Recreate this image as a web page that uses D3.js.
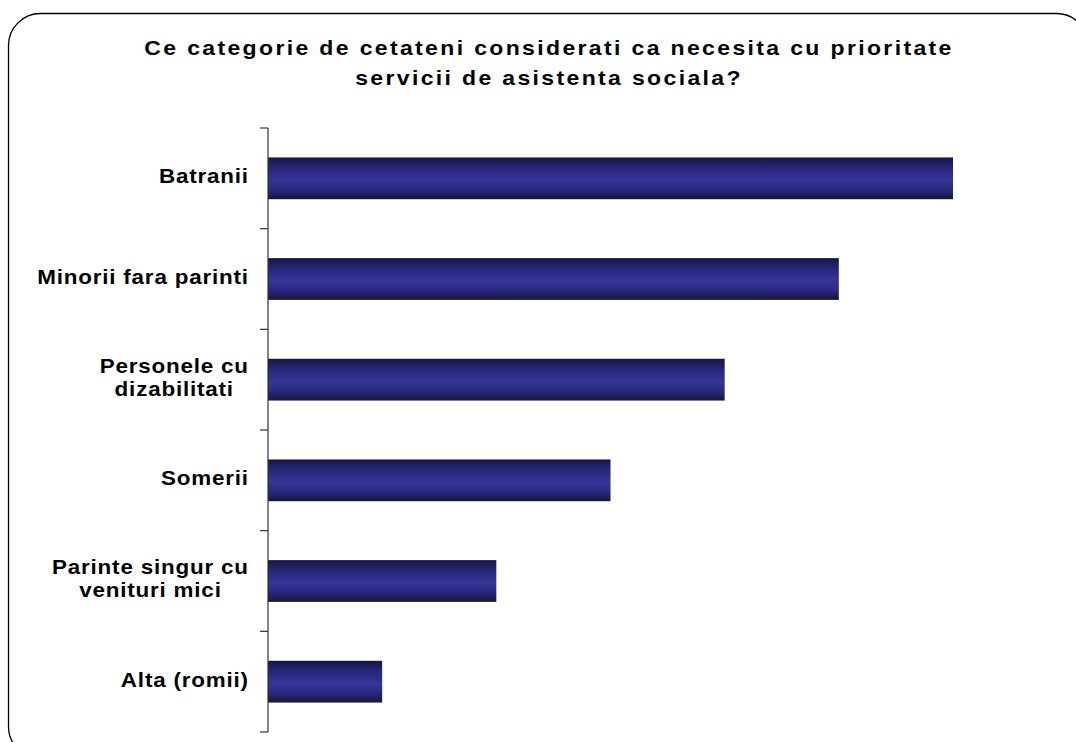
<!DOCTYPE html>
<html>
<head>
<meta charset="utf-8">
<script src="https://cdn.jsdelivr.net/npm/d3@7"></script>
<style>
  html, body { margin: 0; padding: 0; background: #fff; }
  svg { display: block; }
  text { font-family: "Liberation Sans", Arial, sans-serif; font-weight: bold; fill: #000; }
</style>
</head>
<body>
<svg id="chart" width="1076" height="742"></svg>
<script>
// Survey question and answer categories (top to bottom)
const titleLines = [
  "Ce categorie de cetateni considerati ca necesita cu prioritate",
  "servicii de asistenta sociala?"
];
const categories = [
  ["Batranii"],
  ["Minorii fara parinti"],
  ["Personele cu", "dizabilitati"],
  ["Somerii"],
  ["Parinte singur cu", "venituri mici"],
  ["Alta (romii)"]
];
// Share of respondents per category (%)
const values = [30, 25, 20, 15, 10, 5];

const svg = d3.select("#chart");

// Rounded frame around the whole chart
svg.append("rect")
  .attr("x", 8.5).attr("y", 13.5)
  .attr("width", 1080).attr("height", 745)
  .attr("rx", 32).attr("ry", 32)
  .attr("fill", "none").attr("stroke", "#000").attr("stroke-width", 1.3);

// Bar gradient: dark edges, lighter indigo centre
const defs = svg.append("defs");
const grad = defs.append("linearGradient")
  .attr("id", "barGrad").attr("x1", 0).attr("y1", 0).attr("x2", 0).attr("y2", 1);
[[0, "#17173f"], [0.25, "#26267a"], [0.55, "#353599"], [0.8, "#26267a"], [1, "#151539"]]
  .forEach(([o, c]) => grad.append("stop").attr("offset", o).attr("stop-color", c));

const margin = { left: 268, top: 128, bottom: 732 };
const y = d3.scaleBand()
  .domain(d3.range(categories.length))
  .range([margin.top, margin.bottom])
  .paddingInner(0.585).paddingOuter(0.2925);
const x = d3.scaleLinear().domain([0, 30]).range([margin.left, 953]);

const stretch = 1.15;

// Title, slightly widened type
const titleG = svg.append("g").style("font-size", "20px").style("letter-spacing", "2.05px");
titleLines.forEach((t, i) => {
  titleG.append("text")
    .attr("text-anchor", "middle")
    .attr("transform", `translate(549,${55 + i * 30}) scale(${stretch},1)`)
    .text(t);
});

// Bars
svg.append("g").selectAll("rect")
  .data(values)
  .join("rect")
  .attr("x", x(0))
  .attr("y", (d, i) => y(i))
  .attr("width", d => x(d) - x(0))
  .attr("height", y.bandwidth())
  .attr("fill", "url(#barGrad)");

// Category axis: line plus outward ticks at band boundaries
const axis = svg.append("g").attr("stroke", "#333").attr("stroke-width", 1.2);
axis.append("line")
  .attr("x1", margin.left).attr("x2", margin.left)
  .attr("y1", margin.top).attr("y2", margin.bottom);
const step = (margin.bottom - margin.top) / categories.length;
axis.selectAll("line.tick")
  .data(d3.range(categories.length + 1))
  .join("line").attr("class", "tick")
  .attr("x1", margin.left - 8).attr("x2", margin.left)
  .attr("y1", i => margin.top + i * step)
  .attr("y2", i => margin.top + i * step);

// Category labels: block right-aligned, lines centred within the block
const ls = 0.7, lineH = 23;
const lg = svg.append("g").style("font-size", "19.5px").style("letter-spacing", ls + "px");
categories.forEach((lines, i) => {
  const cy = y(i) + y.bandwidth() / 2;
  const outer = lg.append("g");
  const inner = outer.append("g").attr("transform", `scale(${stretch},1)`);
  const txt = inner.append("text").attr("text-anchor", "middle");
  lines.forEach((t, j) => {
    txt.append("tspan")
      .attr("x", 0)
      .attr("y", cy + (j - (lines.length - 1) / 2) * lineH + 5)
      .text(t);
  });
  const bb = txt.node().getBBox();
  const right = (bb.x + bb.width - ls) * stretch;
  outer.attr("transform", `translate(${248 - right},0)`);
});
</script>
</body>
</html>
